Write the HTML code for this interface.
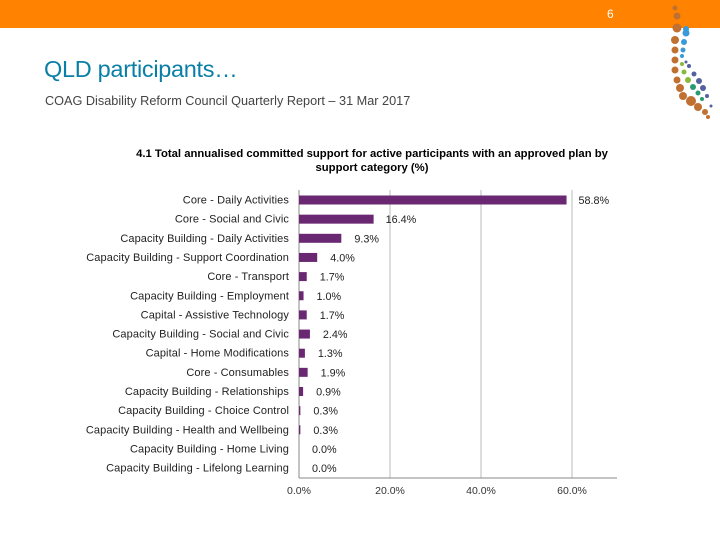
<!DOCTYPE html>
<html><head><meta charset="utf-8"><style>
body{margin:0;width:720px;height:540px;overflow:hidden;background:#fff;font-family:"Liberation Sans",sans-serif;position:relative}
.top{position:absolute;left:0;top:0;width:720px;height:28px;background:#ff8200}
.pg{position:absolute;left:607px;top:7px;color:#fff;font-size:12px}
h1{position:absolute;left:44px;top:56px;margin:0;font-weight:normal;font-size:23.5px;color:#0a7fa6;letter-spacing:-0.3px}
.sub{position:absolute;left:45px;top:94px;font-size:12.7px;color:#444}
</style></head><body>
<div class="top"></div>
<div class="pg">6</div>
<svg style="position:absolute;left:0;top:0" width="720" height="540">
<g fill="#c07030"><circle cx="675" cy="8" r="2.5"/><circle cx="677" cy="16" r="3.5"/><circle cx="677" cy="28" r="4.5"/><circle cx="675" cy="40" r="4"/><circle cx="675" cy="50" r="3.5"/><circle cx="675" cy="60" r="3.5"/><circle cx="675" cy="70" r="3.5"/><circle cx="677" cy="80" r="3.5"/><circle cx="680" cy="88" r="4"/><circle cx="683" cy="96" r="4"/><circle cx="691" cy="101" r="5"/><circle cx="698" cy="107" r="4"/><circle cx="705" cy="112" r="3"/><circle cx="708" cy="117" r="2"/></g>
<g fill="#3a9ad9"><circle cx="686" cy="29" r="3"/><circle cx="686" cy="33" r="3.5"/><circle cx="684" cy="42" r="3"/><circle cx="683" cy="50" r="2.5"/><circle cx="682" cy="56" r="2"/></g>
<g fill="#8ab83a"><circle cx="682" cy="64" r="2"/><circle cx="684" cy="72" r="2.5"/><circle cx="688" cy="80" r="3"/></g>
<g fill="#5560a0"><circle cx="686" cy="62" r="1.5"/><circle cx="689" cy="66" r="2"/><circle cx="694" cy="74" r="2.5"/><circle cx="699" cy="81" r="3"/><circle cx="703" cy="88" r="3"/><circle cx="707" cy="96" r="2"/><circle cx="711" cy="106" r="1.5"/></g>
<g fill="#2a9a70"><circle cx="693" cy="87" r="3"/><circle cx="698" cy="93" r="2.5"/><circle cx="702" cy="99" r="2"/></g>
</svg>
<h1>QLD participants…</h1>
<div class="sub">COAG Disability Reform Council Quarterly Report – 31 Mar 2017</div>
<svg id="chart" style="position:absolute;left:0;top:0" width="720" height="540"></svg>
<script>
const categories=["Core - Daily Activities","Core - Social and Civic","Capacity Building - Daily Activities","Capacity Building - Support Coordination","Core - Transport","Capacity Building - Employment","Capital - Assistive Technology","Capacity Building - Social and Civic","Capital - Home Modifications","Core - Consumables","Capacity Building - Relationships","Capacity Building - Choice Control","Capacity Building - Health and Wellbeing","Capacity Building - Home Living","Capacity Building - Lifelong Learning"];
const values=[58.8,16.4,9.3,4.0,1.7,1.0,1.7,2.4,1.3,1.9,0.9,0.3,0.3,0.0,0.0];
const ticks=[0,20,40,60];
const tickLabels=["0.0%","20.0%","40.0%","60.0%"];
const svg=document.getElementById('chart'),NS='http://www.w3.org/2000/svg';
const x0=299,pxPer=(572-299)/60,yTop=190.5,step=19.15,bottom=478;
const X=v=>x0+v*pxPer, Y=i=>yTop+i*step;
function mk(t,a,txt){const e=document.createElementNS(NS,t);for(const k in a)e.setAttribute(k,a[k]);if(txt!=null)e.textContent=txt;svg.appendChild(e);return e;}
let t=mk('text',{x:372,y:157,'font-size':11.3,'font-weight':'bold','text-anchor':'middle',fill:'#000'},'4.1 Total annualised committed support for active participants with an approved plan by');


t=mk('text',{x:372,y:171,'font-size':11.3,'font-weight':'bold','text-anchor':'middle',fill:'#000'},'support category (%)');


ticks.forEach((v,i)=>{
 if(v>0){const g=mk('line',{x1:X(v),x2:X(v),y1:190,y2:bottom,stroke:'#bbb','stroke-width':1});
 
 }
 const l=mk('text',{x:X(v),y:494,'font-size':10.5,'text-anchor':'middle',fill:'#333'},tickLabels[i]);
 
 
});
let ax=mk('line',{x1:x0,x2:x0,y1:190,y2:bottom,stroke:'#888'});


ax=mk('line',{x1:x0,x2:617,y1:bottom,y2:bottom,stroke:'#888'});


categories.forEach((c,i)=>{
 const yc=Y(i)+9.5;
 const l=mk('text',{x:289,y:yc+3.5,'font-size':11,'text-anchor':'end',fill:'#222','letter-spacing':'0.1'},c);
 
 
 const b=mk('rect',{x:x0,y:yc-4.5,width:Math.max(X(values[i])-x0,values[i]>0?1:0),height:9,fill:'#6b2872'});
 
 
 const v=mk('text',{x:X(values[i])+(values[i]>10?12:13),y:yc+4,'font-size':10.8,fill:'#222'},values[i].toFixed(1)+'%');
 
 
});
</script>
</body></html>
